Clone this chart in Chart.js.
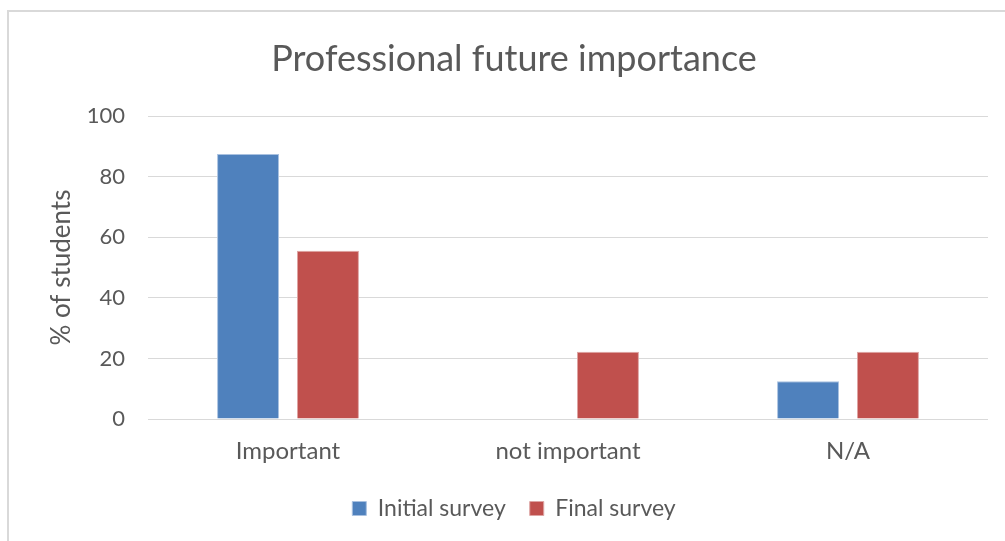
<!DOCTYPE html>
<html>
<head>
<meta charset="utf-8">
<script src="https://cdn.jsdelivr.net/npm/chart.js@4/dist/chart.umd.min.js"></script>
<style>
  html, body { margin: 0; padding: 0; background: #ffffff; }
  #wrap { position: relative; width: 1005px; height: 541px; }
</style>
</head>
<body>
<div id="wrap"><canvas id="chart" width="1005" height="541"></canvas></div>
<script>
// Survey answers, in percent of students
const categories = ['Important', 'not important', 'N/A'];
const initialSurvey = [87.5, 0, 12.5];
const finalSurvey = [55.6, 22.2, 22.2];
const yTicks = [0, 20, 40, 60, 80, 100];

const FONT = 'Lato, "Open Sans", sans-serif';
const TEXT = '#595959';

// Light grey frame around the chart, open on the right and bottom
const framePlugin = {
  id: 'frame',
  beforeDraw(chart) {
    const ctx = chart.ctx;
    ctx.save();
    ctx.strokeStyle = '#d9d9d9';
    ctx.lineWidth = 2;
    ctx.beginPath();
    ctx.moveTo(8, 545);
    ctx.lineTo(8, 11);
    ctx.lineTo(1010, 11);
    ctx.stroke();
    ctx.restore();
  }
};

new Chart(document.getElementById('chart'), {
  type: 'bar',
  data: {
    labels: categories,
    datasets: [
      {
        label: 'Initial survey',
        data: initialSurvey,
        backgroundColor: '#4f81bd',
        borderColor: '#a9c1e0',
        borderWidth: 1,
        barPercentage: 0.775,
        categoryPercentage: 0.571
      },
      {
        label: 'Final survey',
        data: finalSurvey,
        backgroundColor: '#c0504d',
        borderColor: '#dea5a4',
        borderWidth: 1,
        barPercentage: 0.775,
        categoryPercentage: 0.571
      }
    ]
  },
  options: {
    responsive: false,
    animation: false,
    devicePixelRatio: 1,
    layout: { padding: { left: 40, right: 17, top: 0, bottom: 11 } },
    plugins: {
      title: {
        display: true,
        text: 'Professional future importance',
        color: TEXT,
        font: { family: FONT, size: 36, weight: 'normal' },
        padding: { top: 38, bottom: 35 }
      },
      legend: {
        position: 'bottom',
        labels: {
          color: TEXT,
          font: { family: FONT, size: 23 },
          boxWidth: 14,
          boxHeight: 14,
          padding: 24
        }
      },
      tooltip: { enabled: false }
    },
    scales: {
      x: {
        grid: { display: false, drawTicks: false },
        border: { display: false },
        ticks: { color: TEXT, font: { family: FONT, size: 24 }, padding: 18 },
        afterFit(scale) { scale.height = 54; }
      },
      y: {
        min: 0,
        max: 100,
        afterBuildTicks(scale) { scale.ticks = yTicks.map(v => ({ value: v })); },
        grid: { color: '#d9d9d9', lineWidth: 1, drawTicks: false },
        border: { display: false },
        ticks: { color: TEXT, font: { family: FONT, size: 22 }, padding: 23 },
        title: {
          display: true,
          text: '% of students',
          color: TEXT,
          font: { family: FONT, size: 26 },
          padding: { top: 6, bottom: 0 }
        },
        afterFit(scale) { scale.width = 108; }
      }
    }
  },
  plugins: [framePlugin]
});
</script>
</body>
</html>
